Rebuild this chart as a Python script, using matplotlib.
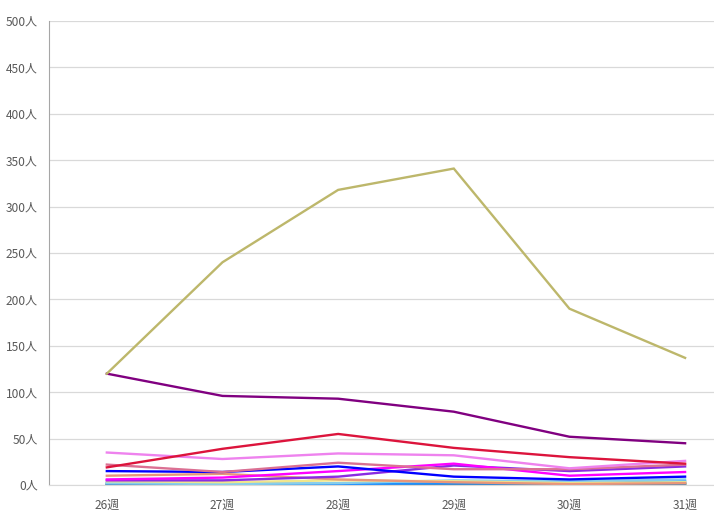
import matplotlib
matplotlib.use("Agg")
import matplotlib.pyplot as plt

plt.rcParams['font.family'] = ['Noto Sans CJK JP', 'DejaVu Sans']

weeks = ["26週", "27週", "28週", "29週", "30週", "31週"]

# 週ごとの人数
s_khaki = [120, 240, 318, 341, 190, 137]
s_purple = [120, 96, 93, 79, 52, 45]
s_crimson = [19, 39, 55, 40, 30, 23]
s_violet = [35, 28, 34, 32, 18, 26]
s_rose = [22, 14, 24, 17, 17, 22]
s_blue = [15, 14, 20, 9, 6, 9]
s_magenta = [6, 8, 15, 23, 10, 14]
s_blueviolet = [5, 5, 9, 21, 15, 20]
s_salmon = [10, 12, 6, 3, 1, 2]
s_yellow = [4, 3, 5, 4, 2, 3]
s_lightblue = [2, 1, 2, 5, 4, 6]
s_dodger = [2, 2, 1, 2, 2, 4]
s_steel = [1, 1, 1, 1, 1, 1]
s_gray = [0, 0, 0, 0, 0, 2]
s_green = [0, 0, 1, 0, 0, 1]

series = [
    (s_green, '#228B22'),
    (s_gray, '#808080'),
    (s_steel, '#4682B4'),
    (s_dodger, '#1E90FF'),
    (s_lightblue, '#87CEEB'),
    (s_yellow, '#F0E68C'),
    (s_salmon, '#E9967A'),
    (s_blueviolet, '#8A2BE2'),
    (s_magenta, '#FF00FF'),
    (s_blue, '#0000FF'),
    (s_rose, '#DB7093'),
    (s_violet, '#EE82EE'),
    (s_crimson, '#DC143C'),
    (s_purple, '#800080'),
    (s_khaki, '#BDB76B'),
]

fig = plt.figure(figsize=(7.14, 5.26), dpi=100)
ax = fig.add_axes([49 / 714, 41 / 526, 665 / 714, 464 / 526])

x = list(range(len(weeks)))
for vals, col in series:
    ax.plot(x, vals, color=col, lw=1.7, solid_joinstyle='miter')

ax.set_xlim(-0.5, 5.25)
ax.set_ylim(0, 500)
ax.set_yticks(range(0, 501, 50))
ax.set_yticklabels([f"{v}人" for v in range(0, 501, 50)])
ax.set_xticks(x)
ax.set_xticklabels(weeks)
ax.tick_params(length=0, labelsize=8.6, labelcolor='#595959')
ax.tick_params(axis='y', pad=8)
ax.tick_params(axis='x', pad=10)
ax.grid(axis='y', color='#D9D9D9', lw=0.9)
ax.set_axisbelow(True)
for side in ['top', 'right']:
    ax.spines[side].set_visible(False)
ax.spines['left'].set_color('#A6A6A6')
ax.spines['bottom'].set_color('#D9D9D9')

fig.savefig("out.png", dpi=100)
